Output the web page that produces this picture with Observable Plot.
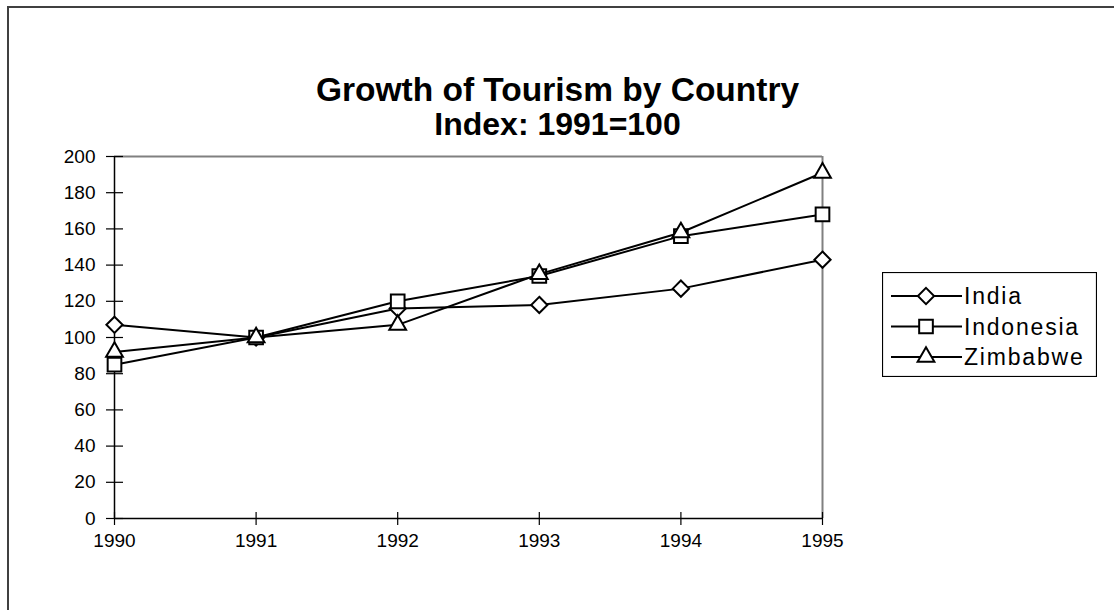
<!DOCTYPE html>
<html><head><meta charset="utf-8">
<script src="https://cdn.jsdelivr.net/npm/d3@7"></script>
<script src="https://cdn.jsdelivr.net/npm/@observablehq/plot@0.6"></script>
<style>
body{margin:0;background:#fff;}
#wrap{position:relative;width:1114px;height:610px;overflow:hidden;background:#fff;font-family:"Liberation Sans",Arial,sans-serif;}
#frame{position:absolute;left:7px;top:6px;width:1200px;height:700px;border-left:2px solid #404040;border-top:2px solid #404040;pointer-events:none;}
#chart{position:absolute;left:0;top:0;}
#legend{position:absolute;left:882px;top:272px;}
</style></head><body>
<div id="wrap"><div id="chart"></div><div id="frame"></div><div id="legend"></div></div>
<script>
const years = [1990, 1991, 1992, 1993, 1994, 1995];
const india = [107, 100, 116, 118, 127, 143];
const indonesia = [85, 100, 120, 134, 156, 168];
const zimbabwe = [92, 100, 107, 135, 158, 191];
const seriesNames = ["India", "Indonesia", "Zimbabwe"];
const seriesSymbols = ["diamond2", "square2", "triangle2"];
const seriesR = [7.3, 8.7, 8];
const yTicks = [0, 20, 40, 60, 80, 100, 120, 140, 160, 180, 200];
const titleText = "Growth of Tourism by Country";
const subtitleText = "Index: 1991=100";

const seriesValues = [india, indonesia, zimbabwe];
const rows = [];
seriesNames.forEach((name, i) => {
  years.forEach((yr, j) => rows.push({series: name, year: yr, value: seriesValues[i][j]}));
});

const W = 1114, H = 610;
const mL = 114, mR = 292, mT = 156, mB = 92;
const fw = W - mL - mR, fh = H - mT - mB;
const font = "'Liberation Sans', Arial, sans-serif";

const marks = [
  Plot.ruleY([200], {stroke: "#808080", strokeWidth: 2}),
  Plot.ruleX([1995], {stroke: "#808080", strokeWidth: 2}),
  Plot.ruleX([1990], {stroke: "black", strokeWidth: 1.5}),
  Plot.ruleY([0], {stroke: "black", strokeWidth: 1.5}),
  Plot.tickY(yTicks, {y: d => d, dx: -8, insetRight: fw - 17, stroke: "black", strokeWidth: 1.2}),
  Plot.tickX(years, {x: d => d, dy: 7, insetTop: fh - 13, stroke: "black", strokeWidth: 1.2}),
  Plot.axisY({ticks: yTicks, tickSize: 0, tickPadding: 19, fontSize: 19, label: null}),
  Plot.axisX({ticks: years, tickSize: 0, tickPadding: 15, fontSize: 19, tickFormat: d => String(d), label: null}),
];
seriesNames.forEach((name, i) => {
  const data = rows.filter(d => d.series === name);
  marks.push(Plot.line(data, {x: "year", y: "value", stroke: "black", strokeWidth: 2}));
  marks.push(Plot.dot(data, {x: "year", y: "value", symbol: () => seriesSymbols[i], r: seriesR[i], fill: "white", stroke: "black", strokeWidth: 2}));
});
marks.push(Plot.text([titleText], {text: d => d, frameAnchor: "top", dx: W / 2 - (mL + fw / 2), dy: -79, fontSize: 33.5, fontWeight: "bold", fill: "black"}));
marks.push(Plot.text([subtitleText], {text: d => d, frameAnchor: "top", dx: W / 2 - (mL + fw / 2), dy: -44, fontSize: 32, fontWeight: "bold", fill: "black"}));

const chart = Plot.plot({
  width: W, height: H,
  marginLeft: mL, marginRight: mR, marginTop: mT, marginBottom: mB,
  x: {type: "linear", domain: [1990, 1995]},
  y: {domain: [0, 200]},
  symbol: {type: "identity"},
  style: {fontFamily: font, fontSize: "19px", color: "black", background: "white"},
  marks
});
document.getElementById("chart").appendChild(chart);

// legend
const lw = 215, lh = 105;
const svg = d3.select("#legend").append("svg").attr("width", lw).attr("height", lh);
svg.append("rect").attr("x", 0.5).attr("y", 0.5).attr("width", lw - 1).attr("height", lh - 1)
  .attr("fill", "white").attr("stroke", "black").attr("stroke-width", 1.2);
const d3Sym = {diamond2: d3.symbolDiamond2, square2: d3.symbolSquare2, triangle2: d3.symbolTriangle2};
seriesNames.forEach((name, i) => {
  const cy = 24 + i * 30.5;
  const g = svg.append("g");
  g.append("line").attr("x1", 9).attr("x2", 80).attr("y1", cy).attr("y2", cy).attr("stroke", "black").attr("stroke-width", 2);
  g.append("path").attr("d", d3.symbol(d3Sym[seriesSymbols[i]], Math.PI * seriesR[i] * seriesR[i])())
    .attr("transform", `translate(44,${cy})`).attr("fill", "white").attr("stroke", "black").attr("stroke-width", 2);
  g.append("text").attr("x", 82).attr("y", cy).attr("dy", "0.35em").attr("font-size", 23)
    .attr("letter-spacing", 1.8).attr("font-family", font).text(name);
});
</script>
</body></html>
